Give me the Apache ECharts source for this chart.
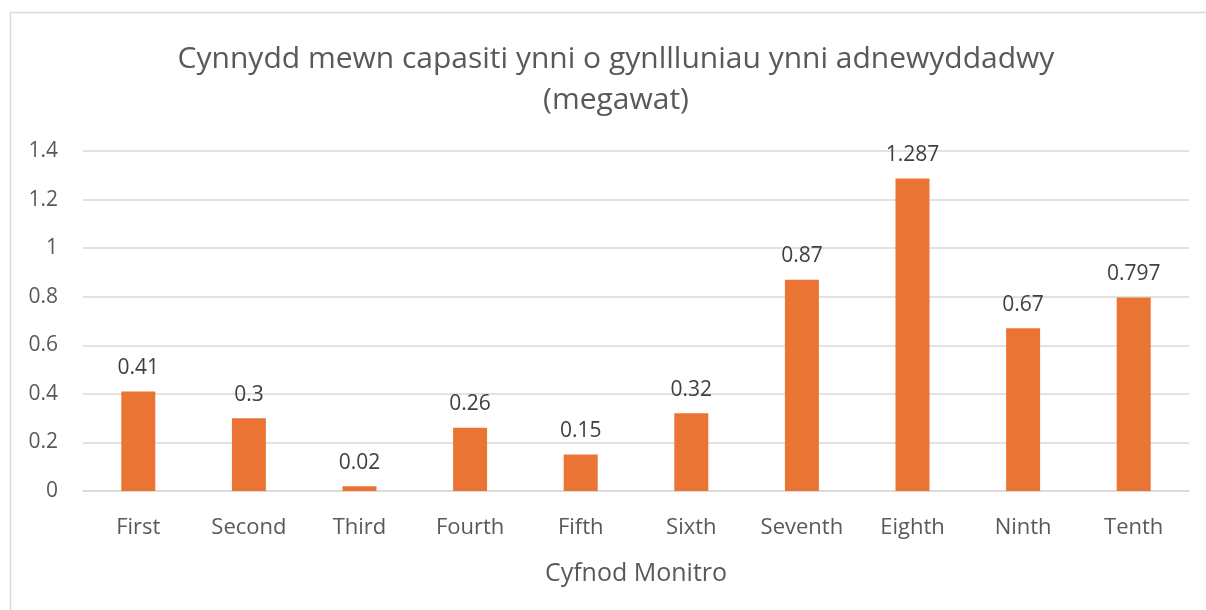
<!DOCTYPE html>
<html>
<head>
<meta charset="utf-8">
<script src="https://cdn.jsdelivr.net/npm/echarts@6/dist/echarts.min.js"></script>
<style>
  html, body { margin: 0; padding: 0; background: #fff; }
  #charts { width: 1206px; height: 610px; }
</style>
</head>
<body>
<div id="charts"></div>
<script>
var categories = ['First', 'Second', 'Third', 'Fourth', 'Fifth', 'Sixth', 'Seventh', 'Eighth', 'Ninth', 'Tenth'];
var values = [0.41, 0.3, 0.02, 0.26, 0.15, 0.32, 0.87, 1.287, 0.67, 0.797];
var chartTitle = 'Cynnydd mewn capasiti ynni o gynllluniau ynni adnewyddadwy\n(megawat)';
var axisName = 'Cyfnod Monitro';

var font = '"Open Sans", "Noto Sans", sans-serif';
var myChart = echarts.init(document.getElementById('charts'));
var option = {
  textStyle: { fontFamily: font },
  graphic: [{
    type: 'rect',
    shape: { x: 10.5, y: 12.5, width: 1220, height: 620 },
    style: { fill: 'none', stroke: '#d9d9d9', lineWidth: 1.5 },
    silent: true
  }],
  title: {
    text: chartTitle,
    left: 611,
    textAlign: 'center',
    top: 34,
    textStyle: { fontFamily: font, fontSize: 30, fontWeight: 'normal', color: '#595959', lineHeight: 41 }
  },
  grid: { left: 83, right: 17, top: 151, bottom: 119 },
  xAxis: {
    type: 'category',
    data: categories,
    name: axisName,
    nameLocation: 'middle',
    nameGap: 70,
    nameTextStyle: { fontFamily: font, fontSize: 25, color: '#595959' },
    axisTick: { show: false },
    axisLine: { lineStyle: { color: '#d9d9d9', width: 1.5 } },
    axisLabel: { fontFamily: font, fontSize: 22, color: '#595959', margin: 26 }
  },
  yAxis: {
    type: 'value',
    min: 0,
    max: 1.4,
    interval: 0.2,
    axisLine: { show: false },
    axisTick: { show: false },
    splitLine: { lineStyle: { color: '#d9d9d9', width: 1.5 } },
    axisLabel: { fontFamily: font, fontSize: 21, color: '#595959', margin: 25 }
  },
  series: [{
    type: 'bar',
    data: values,
    barWidth: 34,
    itemStyle: { color: '#ea7434' },
    label: {
      show: true,
      position: 'top',
      distance: 13,
      fontFamily: font,
      fontSize: 21,
      color: '#404040'
    }
  }]
};
option && myChart.setOption(option);
</script>
</body>
</html>
